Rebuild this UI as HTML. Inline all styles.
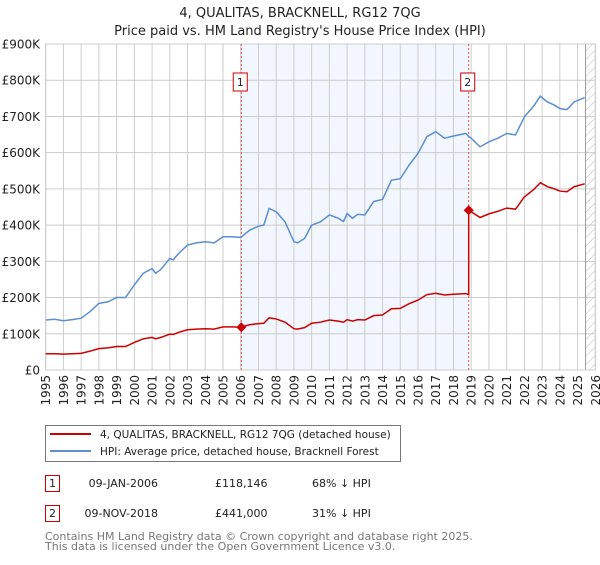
<!DOCTYPE html>
<html><head><meta charset="utf-8"><style>
body{margin:0;background:#fff;font-family:"Liberation Sans","DejaVu Sans",sans-serif;}
svg text{font-family:"DejaVu Sans","Liberation Sans",sans-serif;}
</style></head><body>
<svg id="c" width="600" height="560" viewBox="0 0 600 560" xmlns="http://www.w3.org/2000/svg">
<defs><pattern id="hatch" width="6" height="6" patternUnits="userSpaceOnUse" patternTransform="rotate(45)"><line x1="0" y1="0" x2="0" y2="6" stroke="#bbb" stroke-width="1"/></pattern></defs>
<text x="300" y="17" text-anchor="middle" font-size="13" fill="#222">4, QUALITAS, BRACKNELL, RG12 7QG</text>
<text x="300" y="35" text-anchor="middle" font-size="13" fill="#222">Price paid vs. HM Land Registry's House Price Index (HPI)</text>
<g id="plot"></g>
<g>
<rect x="45.5" y="425.5" width="355" height="36" fill="#fff" stroke="#777"/>
<line x1="50" y1="434" x2="91" y2="434" stroke="#cc0000" stroke-width="2"/>
<text x="100" y="438" font-size="10.5" fill="#222">4, QUALITAS, BRACKNELL, RG12 7QG (detached house)</text>
<line x1="50" y1="451" x2="91" y2="451" stroke="#5b8fd0" stroke-width="2"/>
<text x="100" y="455" font-size="10.5" fill="#222">HPI: Average price, detached house, Bracknell Forest</text>
</g>
<g font-size="11" fill="#222">
<rect x="45.5" y="475.5" width="14" height="16" fill="#fff" stroke="#cc0000"/><text x="52.5" y="487" text-anchor="middle">1</text>
<text x="158" y="487" text-anchor="end">09-JAN-2006</text><text x="215" y="487">£118,146</text><text x="312" y="487">68% ↓ HPI</text>
<rect x="45.5" y="505.5" width="14" height="16" fill="#fff" stroke="#cc0000"/><text x="52.5" y="517" text-anchor="middle">2</text>
<text x="158" y="517" text-anchor="end">09-NOV-2018</text><text x="215" y="517">£441,000</text><text x="312" y="517">31% ↓ HPI</text>
</g>
<text x="45" y="540" font-size="11" fill="#777">Contains HM Land Registry data © Crown copyright and database right 2025.</text>
<text x="45" y="550" font-size="11" fill="#777">This data is licensed under the Open Government Licence v3.0.</text>
</svg>
<script>
const hpiYears=[1995,1995.5,1996,1996.5,1997,1997.5,1998,1998.5,1999,1999.5,2000,2000.5,2001,2001.2,2001.5,2002,2002.2,2002.5,2003,2003.5,2004,2004.5,2005,2005.5,2006,2006.5,2007,2007.3,2007.6,2008,2008.5,2009,2009.2,2009.6,2010,2010.5,2011,2011.5,2011.8,2012,2012.3,2012.6,2013,2013.5,2014,2014.5,2015,2015.5,2016,2016.5,2017,2017.5,2018,2018.7,2018.86,2019,2019.5,2020,2020.5,2021,2021.5,2022,2022.5,2022.9,2023.3,2023.7,2024,2024.4,2024.8,2025.4];
const hpiValues=[138,140,136,139,143,161,184,188,200,200,235,267,280,267,278,308,304,322,345,351,354,351,368,368,366,386,397,400,446,437,409,354,351,363,400,409,428,419,410,432,419,430,428,465,471,524,528,566,598,644,658,640,646,653,645,640,616,630,640,653,649,699,727,756,740,731,722,719,740,752];
const redYears=[1995,1995.5,1996,1996.5,1997,1997.5,1998,1998.5,1999,1999.5,2000,2000.5,2001,2001.2,2001.5,2002,2002.2,2002.5,2003,2003.5,2004,2004.5,2005,2005.5,2006,2006.5,2007,2007.3,2007.6,2008,2008.5,2009,2009.2,2009.6,2010,2010.5,2011,2011.5,2011.8,2012,2012.3,2012.6,2013,2013.5,2014,2014.5,2015,2015.5,2016,2016.5,2017,2017.5,2018,2018.7,2018.86,2018.86,2019,2019.5,2020,2020.5,2021,2021.5,2022,2022.5,2022.9,2023.3,2023.7,2024,2024.4,2024.8,2025.4];
const redValues=[45,45,44,45,46,52,59,61,65,65,76,86,90,86,90,99,98,104,111,113,114,113,119,119,118,125,128,129,144,141,132,114,113,117,129,132,138,135,132,139,135,139,138,150,152,169,170,183,193,208,212,207,209,211,208,441,437,421,431,438,447,444,478,497,517,506,500,494,492,506,514];
const saleYears=[2006.03,2018.86];
const saleValues=[118.146,441];
const saleLabels=["1","2"];
const yTicks=[0,100,200,300,400,500,600,700,800,900];
const yTickLabels=["£0","£100K","£200K","£300K","£400K","£500K","£600K","£700K","£800K","£900K"];
const xTicks=[1995,1996,1997,1998,1999,2000,2001,2002,2003,2004,2005,2006,2007,2008,2009,2010,2011,2012,2013,2014,2015,2016,2017,2018,2019,2020,2021,2022,2023,2024,2025,2026];
const dataEnd=2025.45;

const NS="http://www.w3.org/2000/svg";
const L=45.7,R=595.3,T=44,B=370;
const X=y=>L+(y-1995)*(R-L)/31;
const Y=v=>B-v*(B-T)/900;
const g=document.getElementById('plot');
function mk(tag,attrs,parent){const e=document.createElementNS(NS,tag);for(const k in attrs)e.setAttribute(k,attrs[k]);(parent||g).appendChild(e);return e;}
let e;
e=mk('rect',{x:X(saleYears[0]),y:T,width:X(saleYears[1])-X(saleYears[0]),height:B-T,fill:'#f2f6fe'});


e=mk('rect',{x:X(dataEnd),y:T,width:R-X(dataEnd),height:B-T,fill:'url(#hatch)'});


xTicks.forEach(t=>{e=mk('line',{x1:X(t),x2:X(t),y1:T,y2:B,stroke:'#ccc','stroke-width':1});


e=mk('text',{x:0,y:0,transform:`translate(${X(t)+4.5},${B+5}) rotate(-90)`,'text-anchor':'end','font-size':12,fill:'#222'});e.textContent=t;

});
yTicks.forEach((t,i)=>{e=mk('line',{x1:L,x2:R,y1:Y(t),y2:Y(t),stroke:'#ccc','stroke-width':1});


e=mk('text',{x:40,y:Y(t)+4.5,'text-anchor':'end','font-size':12,fill:'#222'});e.textContent=yTickLabels[i];

});
e=mk('line',{x1:X(dataEnd),x2:X(dataEnd),y1:T,y2:B,stroke:'#999','stroke-width':1});


e=mk('rect',{x:L,y:T,width:R-L,height:B-T,fill:'none',stroke:'#ccc'});


saleYears.forEach((s,i)=>{e=mk('line',{x1:X(s),x2:X(s),y1:T,y2:B,stroke:'#e05050','stroke-width':1,'stroke-dasharray':'2,2'});


e=mk('rect',{x:X(s)-8,y:73,width:14,height:18,fill:'#fff',stroke:'#cc0000'});


e=mk('text',{x:X(s)-1,y:86,'text-anchor':'middle','font-size':11,fill:'#222'});e.textContent=saleLabels[i];

});
e=mk('polyline',{points:hpiYears.map((y,i)=>X(y)+','+Y(hpiValues[i])).join(' '),fill:'none',stroke:'#5b8fd0','stroke-width':1.5});


e=mk('polyline',{points:redYears.map((y,i)=>X(y)+','+Y(redValues[i])).join(' '),fill:'none',stroke:'#cc0000','stroke-width':1.5});


saleYears.forEach((s,i)=>{const cx=X(s),cy=Y(saleValues[i]);e=mk('polygon',{points:`${cx},${cy-5} ${cx+5},${cy} ${cx},${cy+5} ${cx-5},${cy}`,fill:'#cc0000'});

});
</script>
</body></html>
